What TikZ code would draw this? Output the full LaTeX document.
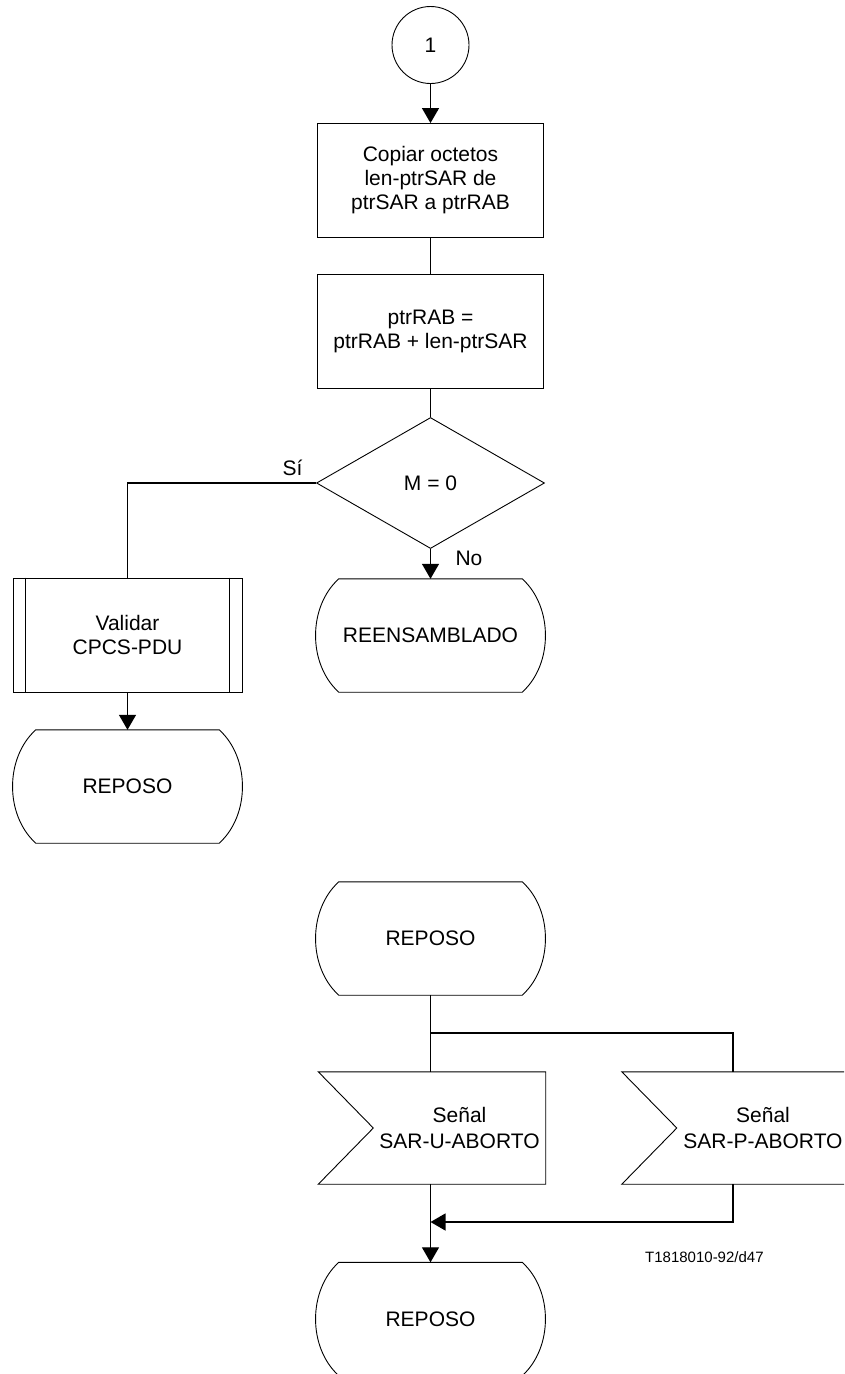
\documentclass[tikz,border=0pt]{standalone}
\usepackage{fontspec}
\setmainfont{Liberation Sans}
\usetikzlibrary{shapes.geometric,calc,arrows.meta}

% outline of a state symbol: flat top and bottom, bulging sides
\newcommand\stateoutline[1]{%
  \draw[outline] (#1.north west) -- (#1.north east)
    .. controls +(31,28) and +(31,-28) .. (#1.south east)
    -- (#1.south west)
    .. controls +(-31,-28) and +(-31,28) .. cycle;}
% outline of an input signal: notch on the left side
\newcommand\signaloutline[1]{%
  \draw[outline] (#1.north east) -- (#1.south east)
    -- ([xshift=-55pt]#1.south west) -- (#1.west)
    -- ([xshift=-55pt]#1.north west) -- cycle;}

\begin{document}
\begin{tikzpicture}[x=1pt,y=-1pt,
  font=\fontsize{21}{24}\selectfont,
  outline/.style={draw=black,line width=0.9pt},
  conn/.style={draw=black,line width=1.3pt},
  arr/.style={conn,-{Triangle[width=17pt,length=15pt]}},
  box/.style={rectangle,outline,align=center,minimum width=226pt,minimum height=114pt,inner sep=0pt},
  statebox/.style={rectangle,align=center,minimum width=183pt,minimum height=113pt,inner sep=0pt},
  sigbox/.style={rectangle,align=center,minimum width=172pt,minimum height=112pt,inner sep=0pt,font=\fontsize{21}{26.5}\selectfont},
  lbl/.style={anchor=base,inner sep=0pt}]

\useasboundingbox[fill=white] (0,0) rectangle (844,1374);
\clip (0,0) rectangle (844,1374);

% upper procedure
\node[circle,outline,minimum size=77pt,inner sep=0pt] (c1) at (430.5,45) {1};
\node[box] (b1) at (430.5,180.5) {Copiar octetos\\len-ptrSAR de\\ptrSAR a ptrRAB};
\node[box] (b2) at (430.5,331.5) {ptrRAB =\\ptrRAB + len-ptrSAR};
\node[diamond,outline,minimum width=228pt,minimum height=131pt,inner sep=0pt,aspect=1.74] (d) at (430.5,483) {M = 0};
\node[box,minimum width=229pt] (val) at (127.5,635) {Validar\\CPCS-PDU};
\draw[outline] ([xshift=13pt]val.north west) -- ([xshift=13pt]val.south west);
\draw[outline] ([xshift=-13pt]val.north east) -- ([xshift=-13pt]val.south east);
\node[statebox] (reens) at (430.5,635.5) {REENSAMBLADO};
\stateoutline{reens}
\node[statebox] (rep1) at (127.5,786.5) {REPOSO};
\stateoutline{rep1}

\node[lbl] (lsi) at (292.5,475) {Sí};
\node[lbl] (lno) at (469,565) {No};

\draw[arr] (c1.south) -- (b1.north);
\draw[conn] (b1.south) -- (b2.north);
\draw[conn] (b2.south) -- (d.north);
\draw[conn] (d.west) -| (val.north);
\draw[arr] (d.south) -- (reens.north);
\draw[arr] (val.south) -- (rep1.north);

% lower procedure
\node[statebox] (rep2) at (430.5,938.5) {REPOSO};
\stateoutline{rep2}
\node[sigbox] (sig1) at (459.5,1128) {Señal\\SAR-U-ABORTO};
\signaloutline{sig1}
\node[sigbox] (sig2) at (763,1128) {Señal\\SAR-P-ABORTO};
\signaloutline{sig2}
\node[statebox] (rep3) at (430.5,1319) {REPOSO};
\stateoutline{rep3}

\node[anchor=base west,inner sep=0pt,font=\fontsize{15}{18}\selectfont] (ref) at (645,1262) {T1818010-92/d47};

\coordinate (jn) at (430.5,1033);
\coordinate (s2in) at (733,1072);
\coordinate (s2out) at (733,1184);
\coordinate (mg) at (430.5,1222);

\draw[conn] (rep2.south) -- (rep2.south |- sig1.north);
\draw[conn] (jn) -| (s2in);
\draw[arr] (rep2.south |- sig1.south) -- (rep3.north);
\draw[arr] (s2out) |- (mg);
\end{tikzpicture}
\end{document}
